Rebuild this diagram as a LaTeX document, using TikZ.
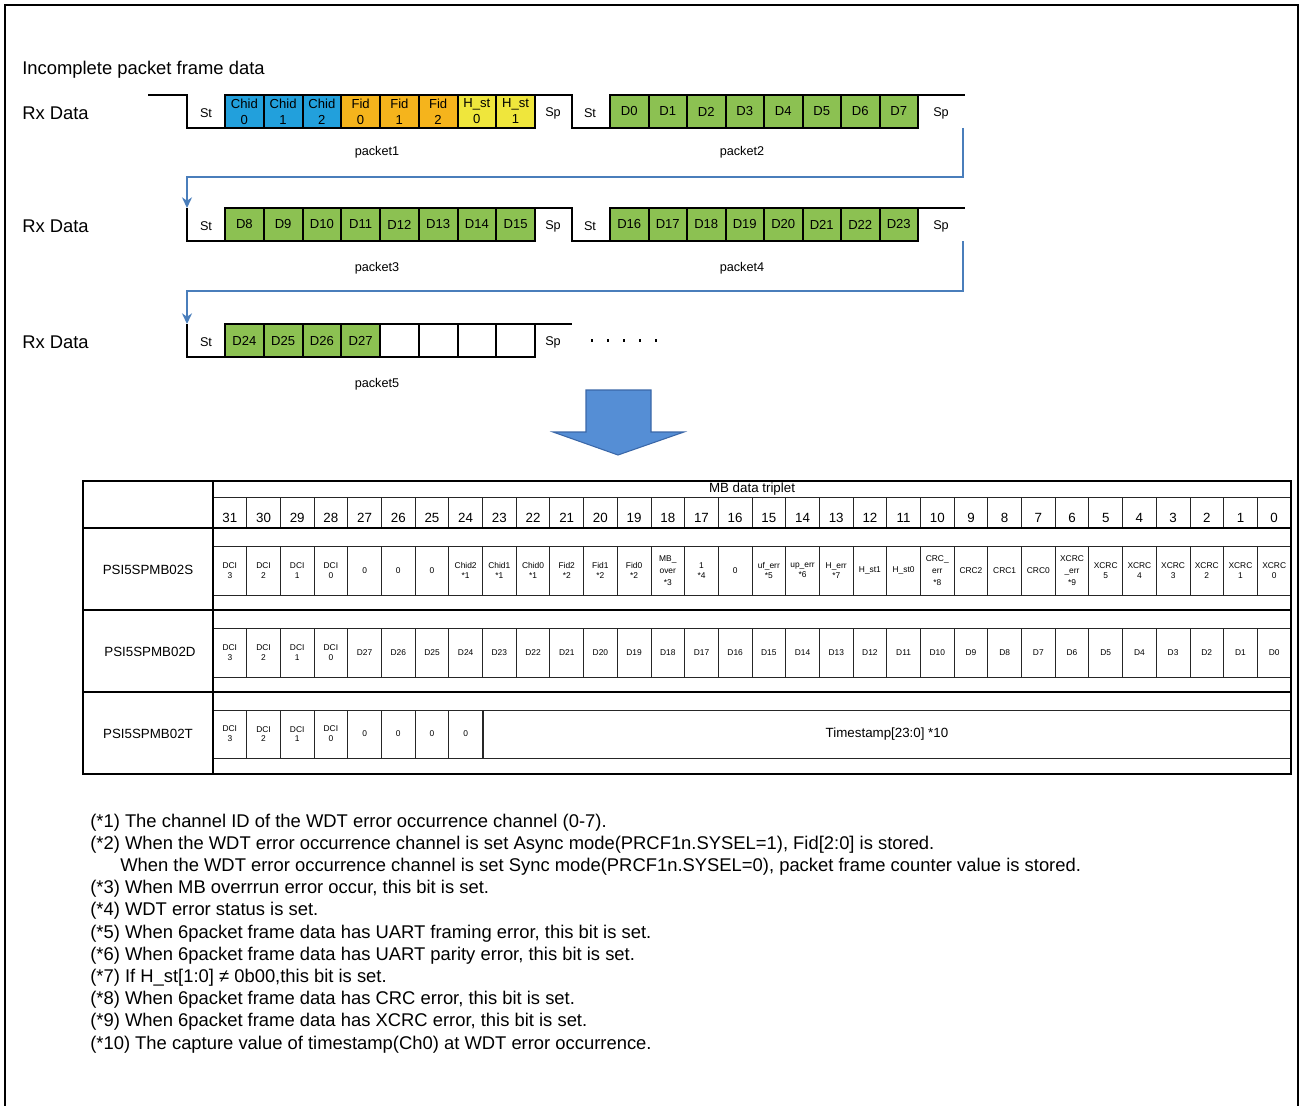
\documentclass[tikz,border=0pt]{standalone}
\usepackage{fontspec}
\setmainfont{Liberation Sans}
\usetikzlibrary{arrows.meta}
\definecolor{chidc}{HTML}{22A0DC}
\definecolor{fidc}{HTML}{F5B41C}
\definecolor{hstc}{HTML}{EFE63C}
\definecolor{grn}{HTML}{8CC152}
\definecolor{connc}{HTML}{4A7EBB}
\definecolor{bigblue}{HTML}{558ED5}
\definecolor{bigbluedk}{HTML}{3A67A8}
\begin{document}
\begin{tikzpicture}[x=0.75pt,y=-0.75pt,
  wave/.style={line width=1.5pt},
  pbox/.style={draw=black,line width=1.5pt,minimum height=24.75pt,inner sep=0pt,align=center,font=\fontsize{9.8}{12}\selectfont},
  pboxa/.style={pbox,minimum width=29.06pt},
  pboxb/.style={pbox,minimum width=28.875pt},
  sig/.style={font=\fontsize{9.5}{11}\selectfont,inner sep=0pt},
  plabel/.style={font=\fontsize{9.5}{11}\selectfont,inner sep=0pt},
  big/.style={font=\fontsize{13.8}{16}\selectfont,inner sep=0pt},
  conn/.style={draw=connc,line width=1.8pt,-{Stealth[length=8pt,width=7.5pt]}},
  tframe/.style={line width=1.3pt},
  bitcell/.style={draw=black!85,line width=0.6pt,minimum width=25.27pt,minimum height=23.25pt,inner sep=0pt},
  bitnum/.style={font=\fontsize{10}{12}\selectfont,inner sep=0pt},
  cell/.style={draw=black!85,line width=0.6pt,minimum width=25.27pt,minimum height=36.75pt,inner sep=0pt,align=center,font=\fontsize{6.3}{7.4}\selectfont},
  rowlbl/.style={font=\fontsize{10}{12}\selectfont,inner sep=0pt},
  note/.style={font=\fontsize{13.8}{16}\selectfont,inner sep=0pt,anchor=west}
]
\useasboundingbox (0,0) rectangle (1300,1106);
\draw[line width=1.5pt] (5,1106) -- (5,5) -- (1298,5) -- (1298,1106);

\node[big,anchor=west] (title) at (22,70) {Incomplete packet frame data};

% ---------- row 1 ----------
\node[big,anchor=west] (rx1) at (22,113) {Rx Data};
\draw[wave] (148,95) -- (187,95) -- (187,128) -- (225,128);
\node[sig] (r1st1) at (206,113) {St};
\foreach \t/\c [count=\i from 0] in {Chid\\0/chidc,Chid\\1/chidc,Chid\\2/chidc,Fid\\0/fidc,Fid\\1/fidc,Fid\\2/fidc,H\_st\\0/hstc,H\_st\\1/hstc}
  \node[pboxa,fill=\c] (p1b\i) at ({225+38.75*(\i+0.5)},111.5) {\t};
\draw[wave] (535,95) -- (572,95) -- (572,128) -- (610,128);
\node[sig] (r1sp1) at (553,113) {Sp};
\node[sig] (r1st2) at (590,113) {St};
\foreach \i in {0,...,7}
  \node[pboxb,fill=grn] (p2b\i) at ({610+38.5*(\i+0.5)},111.5) {D\i};
\draw[wave] (918,95) -- (965,95);
\node[sig] (r1sp2) at (941,113) {Sp};
\node[plabel] (pk1) at (377,152) {packet1};
\node[plabel] (pk2) at (742,152) {packet2};

% ---------- row 2 ----------
\node[big,anchor=west] (rx2) at (22,226) {Rx Data};
\draw[wave] (187,208) -- (187,241) -- (225,241);
\node[sig] (r2st1) at (206,226) {St};
\foreach \i in {0,...,7}{
  \pgfmathtruncatemacro\n{8+\i}
  \node[pboxa,fill=grn] (p3b\i) at ({225+38.75*(\i+0.5)},224.5) {D\n};}
\draw[wave] (535,208) -- (572,208) -- (572,241) -- (610,241);
\node[sig] (r2sp1) at (553,226) {Sp};
\node[sig] (r2st2) at (590,226) {St};
\foreach \i in {0,...,7}{
  \pgfmathtruncatemacro\n{16+\i}
  \node[pboxb,fill=grn] (p4b\i) at ({610+38.5*(\i+0.5)},224.5) {D\n};}
\draw[wave] (918,208) -- (965,208);
\node[sig] (r2sp2) at (941,226) {Sp};
\node[plabel] (pk3) at (377,268) {packet3};
\node[plabel] (pk4) at (742,268) {packet4};

% ---------- row 3 ----------
\node[big,anchor=west] (rx3) at (22,342) {Rx Data};
\draw[wave] (187,324) -- (187,357) -- (225,357);
\node[sig] (r3st1) at (206,342) {St};
\foreach \i in {0,...,3}{
  \pgfmathtruncatemacro\n{24+\i}
  \node[pboxa,fill=grn] (p5b\i) at ({225+38.75*(\i+0.5)},340.5) {D\n};}
\foreach \i in {4,...,7}
  \node[pboxa,fill=white] (p5b\i) at ({225+38.75*(\i+0.5)},340.5) {};
\draw[wave] (535,324) -- (572,324);
\node[sig] (r3sp1) at (553,342) {Sp};
\foreach \i in {0,...,4}
  \fill ({592+16*\i-1.3},339.3) rectangle ++(2.6,2.6);
\node[plabel] (pk5) at (377,384) {packet5};

% ---------- connectors ----------
\coordinate (c1a) at (963,128);
\coordinate (c1b) at (187,208);
\draw[conn] (c1a) -- ++(0,49) -| (c1b);
\coordinate (c2a) at (963,241);
\coordinate (c2b) at (187,324);
\draw[conn] (c2a) -- ++(0,50) -| (c2b);

% ---------- block arrow ----------
\draw[fill=bigblue,draw=bigbluedk,line width=0.8pt] (586,390) -- (651,390) -- (651,432) -- (684,432) -- (618,455) -- (553,432) -- (586,432) -- cycle;

% ---------- table ----------
\draw[line width=0.6pt] (213,497) -- (1291,497);
\node[bitnum] (mbh) at (752,489) {MB data triplet};
\foreach \k in {0,...,31}{
  \pgfmathtruncatemacro\bit{31-\k}
  \pgfmathsetmacro\xc{213+33.6875*(\k+0.5)}
  \node[bitcell] (bc\bit) at (\xc,512.5) {};
  \node[bitnum] (bn\bit) at (\xc,518) {\bit};
}
% row S
\draw[line width=0.6pt] (213,546) -- (1291,546) (213,595) -- (1291,595);
\foreach \t [count=\k from 0] in {DCI\\3,DCI\\2,DCI\\1,DCI\\0,0,0,0,Chid2\\*1,Chid1\\*1,Chid0\\*1,Fid2\\*2,Fid1\\*2,Fid0\\*2,MB\_\\[1.5pt]over\\[1.5pt]*3,1\\*4,0,uf\_err\\*5,up\_err\\*6,H\_err\\*7,H\_st1,H\_st0,CRC\_\\[1.5pt]err\\[1.5pt]*8,CRC2,CRC1,CRC0,XCRC\\[1.5pt]\_err\\[1.5pt]*9,XCRC\\5,XCRC\\4,XCRC\\3,XCRC\\2,XCRC\\1,XCRC\\0}{
  \pgfmathsetmacro\xc{213+33.6875*(\k+0.5)}
  \node[cell] (s\k) at (\xc,570.5) {\t};
}
% row D
\draw[line width=0.6pt] (213,628) -- (1291,628) (213,677) -- (1291,677);
\foreach \t [count=\k from 0] in {DCI\\3,DCI\\2,DCI\\1,DCI\\0}{
  \pgfmathsetmacro\xc{213+33.6875*(\k+0.5)}
  \node[cell] (d\k) at (\xc,652.5) {\t};
}
\foreach \k in {4,...,31}{
  \pgfmathtruncatemacro\n{31-\k}
  \pgfmathsetmacro\xc{213+33.6875*(\k+0.5)}
  \node[cell] (d\k) at (\xc,652.5) {D\n};
}
% row T
\draw[line width=0.6pt] (213,710) -- (1291,710) (213,758) -- (1291,758);
\foreach \t [count=\k from 0] in {DCI\\3,DCI\\2,DCI\\1,DCI\\0,0,0,0,0}{
  \pgfmathsetmacro\xc{213+33.6875*(\k+0.5)}
  \node[cell,minimum height=36pt] (t\k) at (\xc,734) {\t};
}
\node[cell,minimum width=606pt,minimum height=36pt,font=\fontsize{10}{12}\selectfont] (tstamp) at (887,734) {Timestamp[23:0] *10};

\draw[tframe] (83,481) rectangle (1291,774);
\draw[tframe] (213,481) -- (213,774);
\draw[tframe] (83,528) -- (1291,528) (83,610) -- (1291,610) (83,692) -- (1291,692);
\node[rowlbl] (lS) at (148,570) {PSI5SPMB02S};
\node[rowlbl] (lD) at (150,652) {PSI5SPMB02D};
\node[rowlbl] (lT) at (148,734) {PSI5SPMB02T};

% ---------- notes ----------
\node[note] (n1) at (90,823) {(*1) The channel ID of the WDT error occurrence channel (0-7).};
\node[note] (n2) at (90,845) {(*2) When the WDT error occurrence channel is set Async mode(PRCF1n.SYSEL=1), Fid[2:0] is stored.};
\node[note] (n2b) at (120,867) {When the WDT error occurrence channel is set Sync mode(PRCF1n.SYSEL=0), packet frame counter value is stored.};
\node[note] (n3) at (90,889) {(*3) When MB overrrun error occur, this bit is set.};
\node[note] (n4) at (90,911) {(*4) WDT error status is set.};
\node[note] (n5) at (90,934) {(*5) When 6packet frame data has UART framing error, this bit is set.};
\node[note] (n6) at (90,956) {(*6) When 6packet frame data has UART parity error, this bit is set.};
\node[note] (n7) at (90,978) {(*7) If H\_st[1:0] ≠ 0b00,this bit is set.};
\node[note] (n8) at (90,1000) {(*8) When 6packet frame data has CRC error, this bit is set.};
\node[note] (n9) at (90,1022) {(*9) When 6packet frame data has XCRC error, this bit is set.};
\node[note] (n10) at (90,1045) {(*10) The capture value of timestamp(Ch0) at WDT error occurrence.};
\end{tikzpicture}
\end{document}
